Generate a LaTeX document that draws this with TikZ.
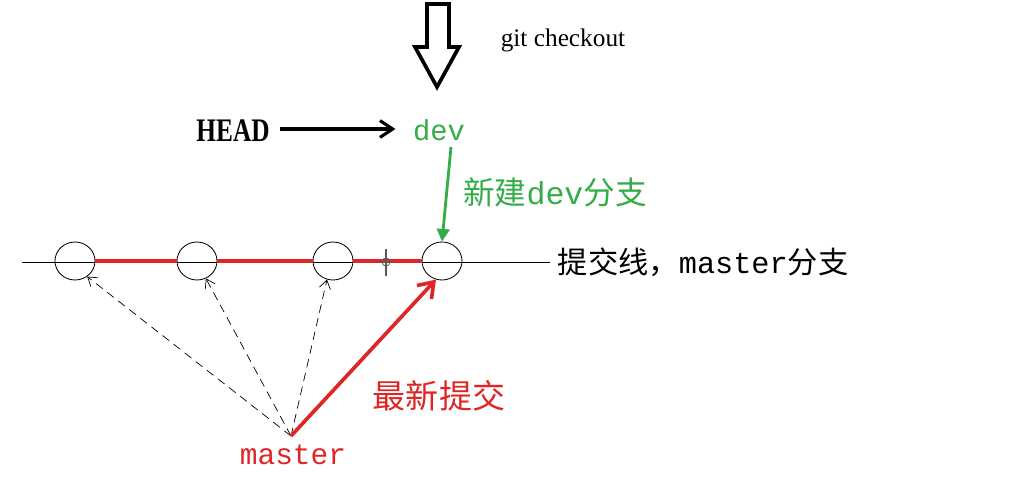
\documentclass[tikz,border=0pt]{standalone}
\usepackage{fontspec}
\setmainfont{Liberation Serif}
\newfontfamily\cjk{Noto Sans CJK SC}
\newfontfamily\mono{Liberation Mono}
\usetikzlibrary{shapes.geometric,arrows.meta}

\definecolor{devgreen}{RGB}{52,172,72}
\definecolor{commitred}{RGB}{222,38,38}

\tikzset{
	commit/.style={draw,ellipse,minimum width=1cm,minimum height=0.95cm,inner sep=0pt,line width=0.6pt},
	oldref/.style={dash pattern=on 6pt off 4pt,line width=0.5pt,-{Straight Barb[length=6pt,width=8pt]}},
}

\begin{document}
\begin{tikzpicture}[x=0.025cm,y=-0.025cm]
\useasboundingbox (0,0) rectangle (1031,478);

% the checkout arrow
\draw[line width=2.6pt,line join=miter] (427,4) -- (449,4) -- (449,47) -- (459,47)
	-- (437,87) -- (415,47) -- (427,47) -- cycle;
\node (gc) at (563,40) {\fontsize{18}{20}\selectfont git checkout};

\node (head) at (233,131) {\fontsize{18}{20}\selectfont\bfseries\scalebox{1}[1.3]{HEAD}};
\node[text=devgreen] (dev) at (439,130) {\mono\fontsize{20.5}{22}\selectfont dev};

\coordinate (lineL) at (22,262);
\coordinate (lineR) at (550,262);
\draw[line width=0.6pt] (lineL) -- (lineR);

\node[commit] (c1) at (75,261) {};
\node[commit] (c2) at (197,261) {};
\node[commit] (c3) at (333,261) {};
\node[commit] (c4) at (442,261) {};

\foreach \i/\j in {1/2, 2/3, 3/4}
{
	\draw[commitred,line width=2.4pt] (c\i.east) -- (c\j.west);
};

% small mark on the last segment
\coordinate (tick) at (386,262);
\draw[gray!70!black,line width=0.8pt] (tick) ++(0,-13) -- ++(0,27);
\draw[gray!70!black,line width=0.6pt] (tick) ++(-8,0) -- ++(16,0);
\draw[gray!70!black,line width=0.6pt] (tick) circle [radius=4];

\node[anchor=west] (mline) at (553,262) {\fontsize{21.5}{23}\selectfont{\cjk 提交线，}{\mono master}{\cjk 分支}};

\draw[line width=2.2pt,-{Straight Barb[length=9pt,width=12pt,line width=2.2pt]}]
	(head.east) ++(5,-2) coordinate (h0) (h0) -- ([xshift=-9]dev.west |- h0);

\draw[devgreen,line width=2pt,-{Triangle[length=9pt,width=9pt]}] (451,147) -- (c4.north);
\node[text=devgreen] (newdev) at (555,192) {\fontsize{22.5}{24}\selectfont{\cjk 新建}{\mono dev}{\cjk 分支}};

\node[text=commitred] (master) at (293,455) {\mono\fontsize{21}{23}\selectfont master};
\coordinate (m0) at (291,436);

\foreach \j/\ang in {1/-52, 2/-63, 3/-108}
{
	\draw[oldref] (m0) -- (c\j.\ang);
};
\draw[commitred,line width=2.6pt,-{Straight Barb[length=10pt,width=14pt,line width=2.6pt]}] (m0) -- (c4.-108);
\node[text=commitred] (latest) at (439,396) {\cjk\fontsize{23.5}{25}\selectfont 最新提交};
\end{tikzpicture}
\end{document}
